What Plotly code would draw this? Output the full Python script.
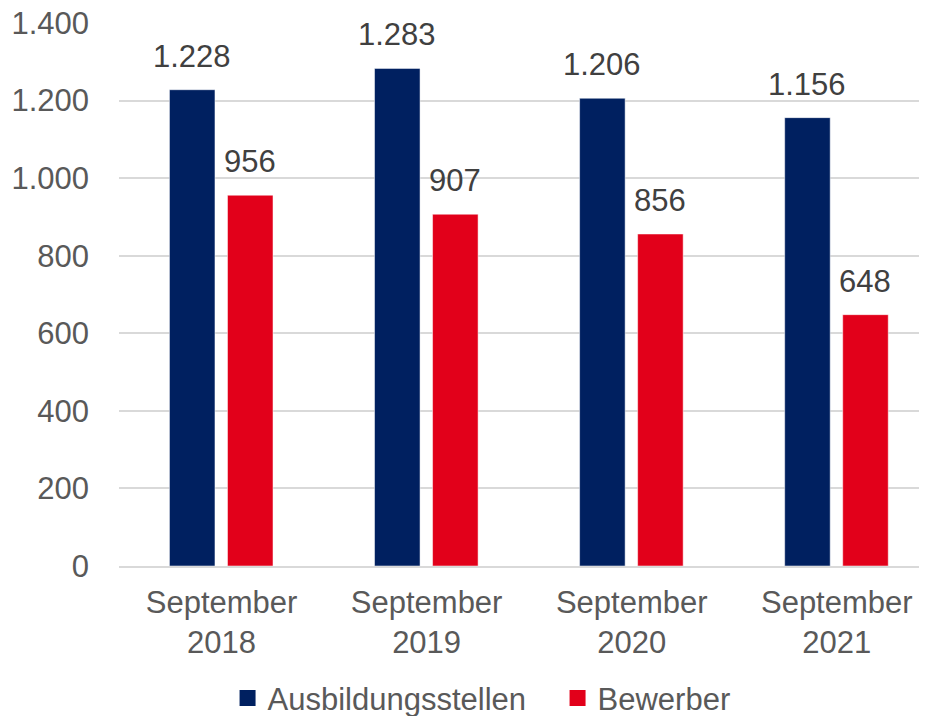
import plotly.graph_objects as go

# data
categories = ["September<br>2018", "September<br>2019", "September<br>2020", "September<br>2021"]
stellen = [1228, 1283, 1206, 1156]
bewerber = [956, 907, 856, 648]
series_names = ["Ausbildungsstellen", "Bewerber"]
y_ticks = [0, 200, 400, 600, 800, 1000, 1200, 1400]

NAVY = "#002060"
RED = "#E2001A"
FONT = "Liberation Sans, Arial, sans-serif"

fig = go.Figure()

# bars (width/offset in category units)
bar_w = 0.222
offsets = [-0.254, 0.029]
fig.add_trace(go.Bar(x=categories, y=stellen, name=series_names[0],
                     marker=dict(color=NAVY, line=dict(color="white", width=0.5)),
                     width=bar_w, offset=offsets[0], showlegend=False))
fig.add_trace(go.Bar(x=categories, y=bewerber, name=series_names[1],
                     marker=dict(color=RED, line=dict(color="white", width=0.5)),
                     width=bar_w, offset=offsets[1], showlegend=False))

# value labels above bars
def fmt(v):
    return f"{v:,}".replace(",", ".")

for i in range(len(categories)):
    for vals, off in zip((stellen, bewerber), offsets):
        fig.add_annotation(x=i + off + bar_w / 2, y=vals[i], text=fmt(vals[i]),
                           showarrow=False, yanchor="bottom", yshift=14,
                           font=dict(family=FONT, size=31, color="#404040"))

# legend entries with square markers
for name, col in zip(series_names, [NAVY, RED]):
    fig.add_trace(go.Scatter(x=[None], y=[None], mode="markers", name=name,
                             marker=dict(symbol="square", size=16, color=col)))

# page has an 8px body margin, so the figure is kept 8px smaller than the window
fig.update_layout(
    width=919, height=708,
    margin=dict(l=111, r=0, t=15, b=150),
    plot_bgcolor="white", paper_bgcolor="white",
    font=dict(family=FONT, size=31, color="#595959"),
    showlegend=True,
    legend=dict(orientation="h", xref="container", yref="container",
                x=0.598, xanchor="center", y=0.025, yanchor="middle",
                font=dict(size=31, color="#595959"), itemsizing="trace",
                entrywidth=285, entrywidthmode="pixels"),
    xaxis=dict(range=[-0.5, 3.44], showgrid=False, showline=True, linecolor="#D9D9D9",
               linewidth=1.5, ticks="", ticklabelstandoff=8, automargin=False),
    yaxis=dict(range=[0, 1400], tickvals=y_ticks, ticktext=[fmt(v) for v in y_ticks],
               showgrid=True, gridcolor="#D9D9D9", gridwidth=1.5, zeroline=False,
               showline=False, ticks="", ticklabelstandoff=29, automargin=False,
               ticklabeloverflow="allow"),
)

fig.write_html("out.html")
